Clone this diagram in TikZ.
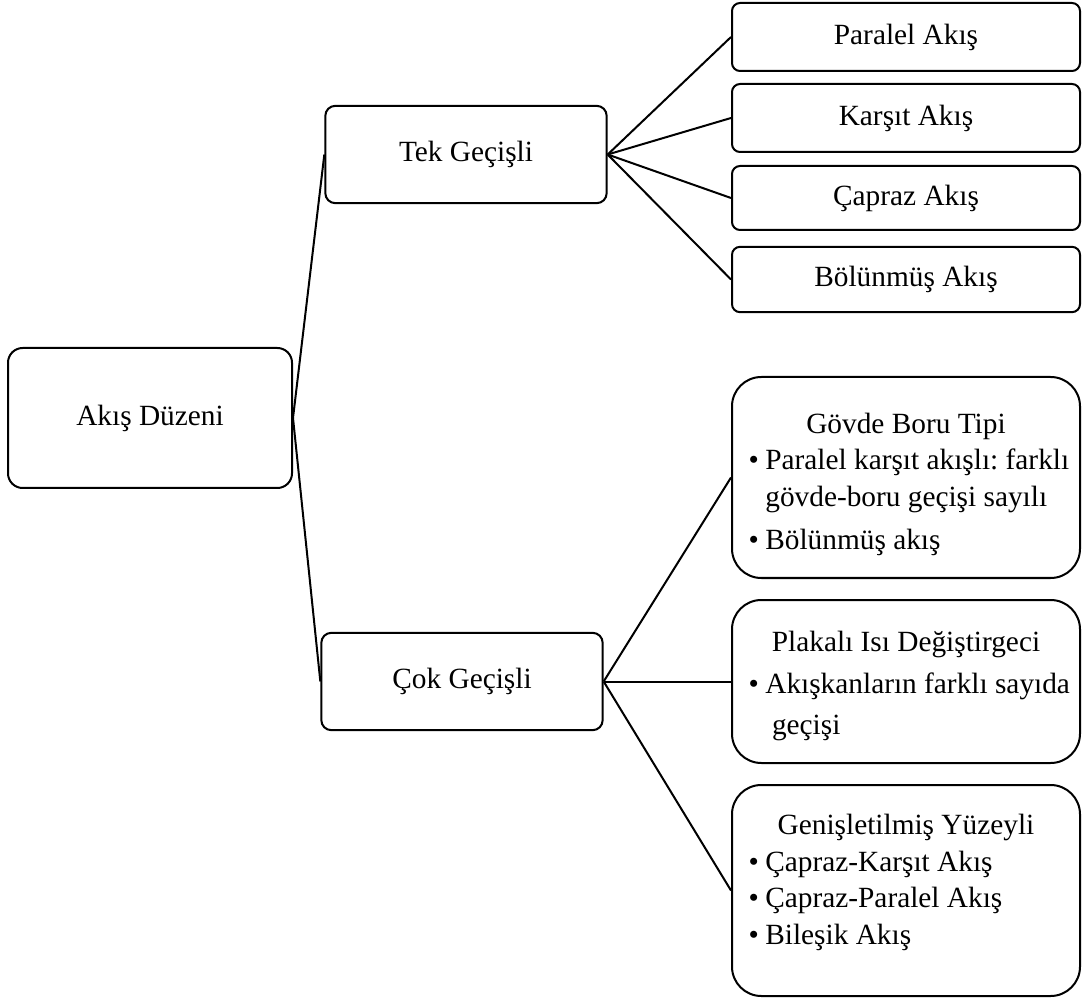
\documentclass[tikz,border=0pt]{standalone}
\usepackage{fontspec}
\setmainfont{Liberation Serif}
\usepackage{tikz}
\frenchspacing
\newcommand{\madde}[1]{\par\leftskip=9pt\hangindent=12.5pt\hangafter=1\noindent\makebox[12.5pt][l]{\textbullet}#1\par}

\begin{document}
\begin{tikzpicture}[x=0.75pt, y=-0.75pt, font=\fontsize{22}{27.5}\selectfont,
  kutu/.style={draw, line width=1.5pt, inner sep=0pt},
  liste/.style={kutu, rounded corners=22pt, minimum width=261pt},
  bag/.style={line width=1.5pt}]
\useasboundingbox (0,0) rectangle (1086,998);
\node[kutu, rounded corners=11pt, minimum width=213pt, minimum height=105pt] (duzen) at (150,418) {Akış Düzeni};
\node[kutu, rounded corners=7.5pt, minimum width=211pt, minimum height=73pt] (tek) at (466,154.5) {Tek Geçişli};
\node[kutu, rounded corners=7.5pt, minimum width=211pt, minimum height=73pt] (cok) at (462,681.5) {Çok Geçişli};
\draw[bag] (duzen.east) -- (tek.west);
\draw[bag] (duzen.east) -- (cok.west);
\foreach \ad/\yy/\boy/\metin in {paralel/37/51/Paralel Akış, karsit/118/51/Karşıt Akış,
    capraz/198/48/Çapraz Akış, bolunmus/279.5/49/Bölünmüş Akış}{
  \node[kutu, rounded corners=6pt, minimum width=261pt, minimum height=\boy pt] (\ad) at (906,\yy) {\metin};
  \draw[bag] (tek.east) -- (\ad.west);
}
\node[liste, minimum height=150.75pt] (govde) at (906,477.5) {\begin{minipage}{254pt}
  \vspace*{10pt}\centering Gövde Boru Tipi\par\raggedright
  \madde{\mbox{Paralel karşıt akışlı: farklı}\break gövde-boru geçişi sayılı}\vspace{4.5pt}
  \madde{Bölünmüş akış}\end{minipage}};
\node[liste, minimum height=122.25pt] (plakali) at (906,681.5) {\begin{minipage}{254pt}
  \vspace*{7pt}\fontsize{22}{31}\selectfont\centering Plakalı Isı Değiştirgeci\par\raggedright
  \madde{\mbox{Akışkanların farklı sayıda}\break\hspace*{5pt}geçişi}\end{minipage}};
\node[liste, minimum height=158.25pt] (genis) at (906,890.5) {\begin{minipage}{254pt}
  \centering Genişletilmiş Yüzeyli\par\raggedright
  \madde{Çapraz-Karşıt Akış}\madde{Çapraz-Paralel Akış}\madde{Bileşik Akış}
  \vspace{12pt}\hrule height 0pt\end{minipage}};
\foreach \ad in {govde,plakali,genis}
  \draw[bag] (cok.east) -- (\ad.west);
\end{tikzpicture}
\end{document}
